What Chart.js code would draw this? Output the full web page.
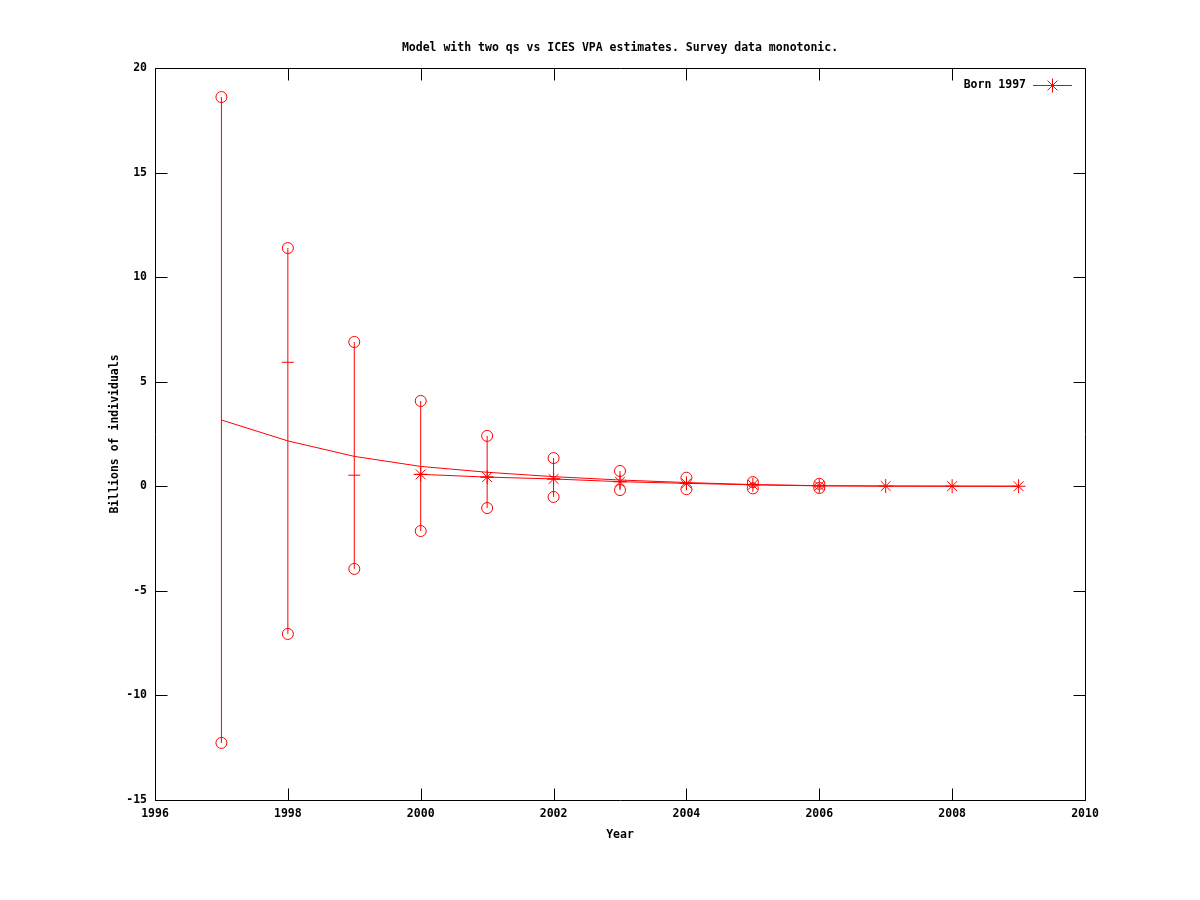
<!DOCTYPE html>
<html>
<head>
<meta charset="utf-8">
<script src="https://cdn.jsdelivr.net/npm/chart.js@4/dist/chart.umd.min.js"></script>
<style>
  html, body { margin: 0; padding: 0; background: #ffffff; }
  #c { display: block; }
</style>
</head>
<body>
<canvas id="c" width="1200" height="900"></canvas>
<script>
// ---------------- data ----------------
const titleText = "Model with two qs vs ICES VPA estimates. Survey data monotonic.";
const xAxisTitle = "Year";
const yAxisTitle = "Billions of individuals";
const seriesName = "Born 1997";

const xTickValues = [1996, 1998, 2000, 2002, 2004, 2006, 2008, 2010];
const yTickValues = [-15, -10, -5, 0, 5, 10, 15, 20];

// model curve
const modelYears  = [1997, 1998, 1999, 2000, 2001, 2002, 2003, 2004, 2005, 2006, 2007, 2008, 2009];
const modelValues = [3.17, 2.17, 1.43, 0.95, 0.67, 0.46, 0.30, 0.18, 0.08, 0.03, 0.01, 0.005, 0.002];

// "Born 1997" series (stars)
const starYears  = [2000, 2001, 2002, 2003, 2004, 2005, 2006, 2007, 2008, 2009];
const starValues = [0.57, 0.44, 0.35, 0.22, 0.14, 0.07, 0.02, 0.01, 0.005, 0.003];

// survey estimates with error bars
const barYears   = [1997, 1998, 1999, 2000, 2001, 2002, 2003, 2004, 2005, 2006];
const barLow     = [-12.27, -7.06, -3.95, -2.14, -1.04, -0.51, -0.18, -0.14, -0.10, -0.08];
const barHigh    = [18.61, 11.39, 6.90, 4.08, 2.41, 1.35, 0.73, 0.41, 0.20, 0.12];
const centerYears  = [1998, 1999, 2000, 2001, 2002, 2003, 2004, 2005, 2006];
const centerValues = [5.93, 0.53, 0.57, 0.44, 0.35, 0.22, 0.14, 0.07, 0.02];

// ---------------- build ----------------
const RED = '#ff0000';
const FONT = { family: '"DejaVu Sans Mono", monospace', size: 11.5, weight: 'bold' };
const FONT_CSS = 'bold 11.5px "DejaVu Sans Mono", monospace';

const pts = (xs, ys) => xs.map((x, i) => ({ x: x, y: ys[i] }));
const barSegments = [];
barYears.forEach((yr, i) => {
  barSegments.push({ x: yr, y: barLow[i] });
  barSegments.push({ x: yr, y: barHigh[i] });
  barSegments.push({ x: yr, y: null });
});

const snap = v => Math.round(v) + 0.5;

const frameTicks = {
  id: 'frameTicks',
  beforeDatasetsDraw(chart) {
    const { ctx, chartArea: a, scales } = chart;
    const L = snap(a.left), R = snap(a.right);
    const T = snap(a.top), B = snap(a.bottom);
    const len = 12;
    ctx.save();
    ctx.strokeStyle = '#000000';
    ctx.lineWidth = 1;
    ctx.beginPath();
    ctx.rect(L, T, R - L, B - T);
    xTickValues.forEach(v => {
      const px = snap(scales.x.getPixelForValue(v));
      ctx.moveTo(px, B); ctx.lineTo(px, B - len);
      ctx.moveTo(px, T); ctx.lineTo(px, T + len);
    });
    yTickValues.forEach(v => {
      const py = snap(scales.y.getPixelForValue(v));
      ctx.moveTo(L, py); ctx.lineTo(L + len, py);
      ctx.moveTo(R, py); ctx.lineTo(R - len, py);
    });
    ctx.stroke();
    ctx.restore();
  },
  afterDraw(chart) {
    const { ctx, chartArea: a } = chart;
    ctx.save();
    // title, centred over the plot area
    ctx.font = FONT_CSS;
    ctx.fillStyle = '#000000';
    ctx.textAlign = 'center';
    ctx.textBaseline = 'middle';
    ctx.fillText(titleText, (a.left + a.right) / 2, a.top - 20);
    // key
    const ly = Math.round(a.top) + 17 + 0.5;
    const x0 = a.right - 52, x1 = a.right - 13;
    ctx.textAlign = 'right';
    ctx.fillText(seriesName, x0 - 7, ly);
    ctx.strokeStyle = RED;
    ctx.lineWidth = 1;
    ctx.beginPath();
    ctx.moveTo(x0, ly); ctx.lineTo(x1, ly);
    ctx.stroke();
    Chart.helpers.drawPoint(ctx, { pointStyle: 'star', radius: 7, rotation: 0, borderWidth: 1 }, (x0 + x1) / 2, ly);
    ctx.restore();
  }
};

new Chart(document.getElementById('c'), {
  type: 'line',
  data: {
    datasets: [
      { label: 'errorbars', data: barSegments, borderColor: RED, borderWidth: 1, pointRadius: 0, spanGaps: false, fill: false },
      { label: 'high', data: pts(barYears, barHigh), showLine: false, pointStyle: 'circle', pointRadius: 5.5,
        pointBorderColor: RED, pointBackgroundColor: 'rgba(0,0,0,0)', pointBorderWidth: 1 },
      { label: 'low', data: pts(barYears, barLow), showLine: false, pointStyle: 'circle', pointRadius: 5.5,
        pointBorderColor: RED, pointBackgroundColor: 'rgba(0,0,0,0)', pointBorderWidth: 1 },
      { label: 'center', data: pts(centerYears, centerValues), showLine: false, pointStyle: 'line', pointRadius: 6,
        pointBorderColor: RED, pointBorderWidth: 1 },
      { label: 'model', data: pts(modelYears, modelValues), borderColor: RED, borderWidth: 1, pointRadius: 0, tension: 0, fill: false },
      { label: seriesName, data: pts(starYears, starValues), borderColor: RED, borderWidth: 1, pointStyle: 'star', pointRadius: 7,
        pointBorderColor: RED, pointBorderWidth: 1, tension: 0, fill: false }
    ]
  },
  options: {
    responsive: false,
    animation: false,
    devicePixelRatio: 1,
    layout: { padding: { left: 0, top: 68, right: 115, bottom: 0 } },
    plugins: {
      legend: { display: false },
      tooltip: { enabled: false },
      title: { display: false }
    },
    scales: {
      x: {
        type: 'linear', min: 1996, max: 2010,
        afterBuildTicks: s => { s.ticks = xTickValues.map(v => ({ value: v })); },
        afterFit: s => { s.height = 100; },
        grid: { display: false, drawTicks: false },
        border: { display: false },
        ticks: { color: '#000000', font: FONT, padding: 7, maxRotation: 0, autoSkip: false, callback: v => String(v) },
        title: { display: true, text: xAxisTitle, color: '#000000', font: FONT, padding: { top: 0, bottom: 58 } }
      },
      y: {
        type: 'linear', min: -15, max: 20,
        afterBuildTicks: s => { s.ticks = yTickValues.map(v => ({ value: v })); },
        afterFit: s => { s.width = 155; },
        grid: { display: false, drawTicks: false },
        border: { display: false },
        ticks: { color: '#000000', font: FONT, padding: 8, autoSkip: false, callback: v => String(v) },
        title: { display: true, text: yAxisTitle, color: '#000000', font: FONT, padding: { top: 108, bottom: 0 } }
      }
    }
  },
  plugins: [frameTicks]
});
</script>
</body>
</html>
